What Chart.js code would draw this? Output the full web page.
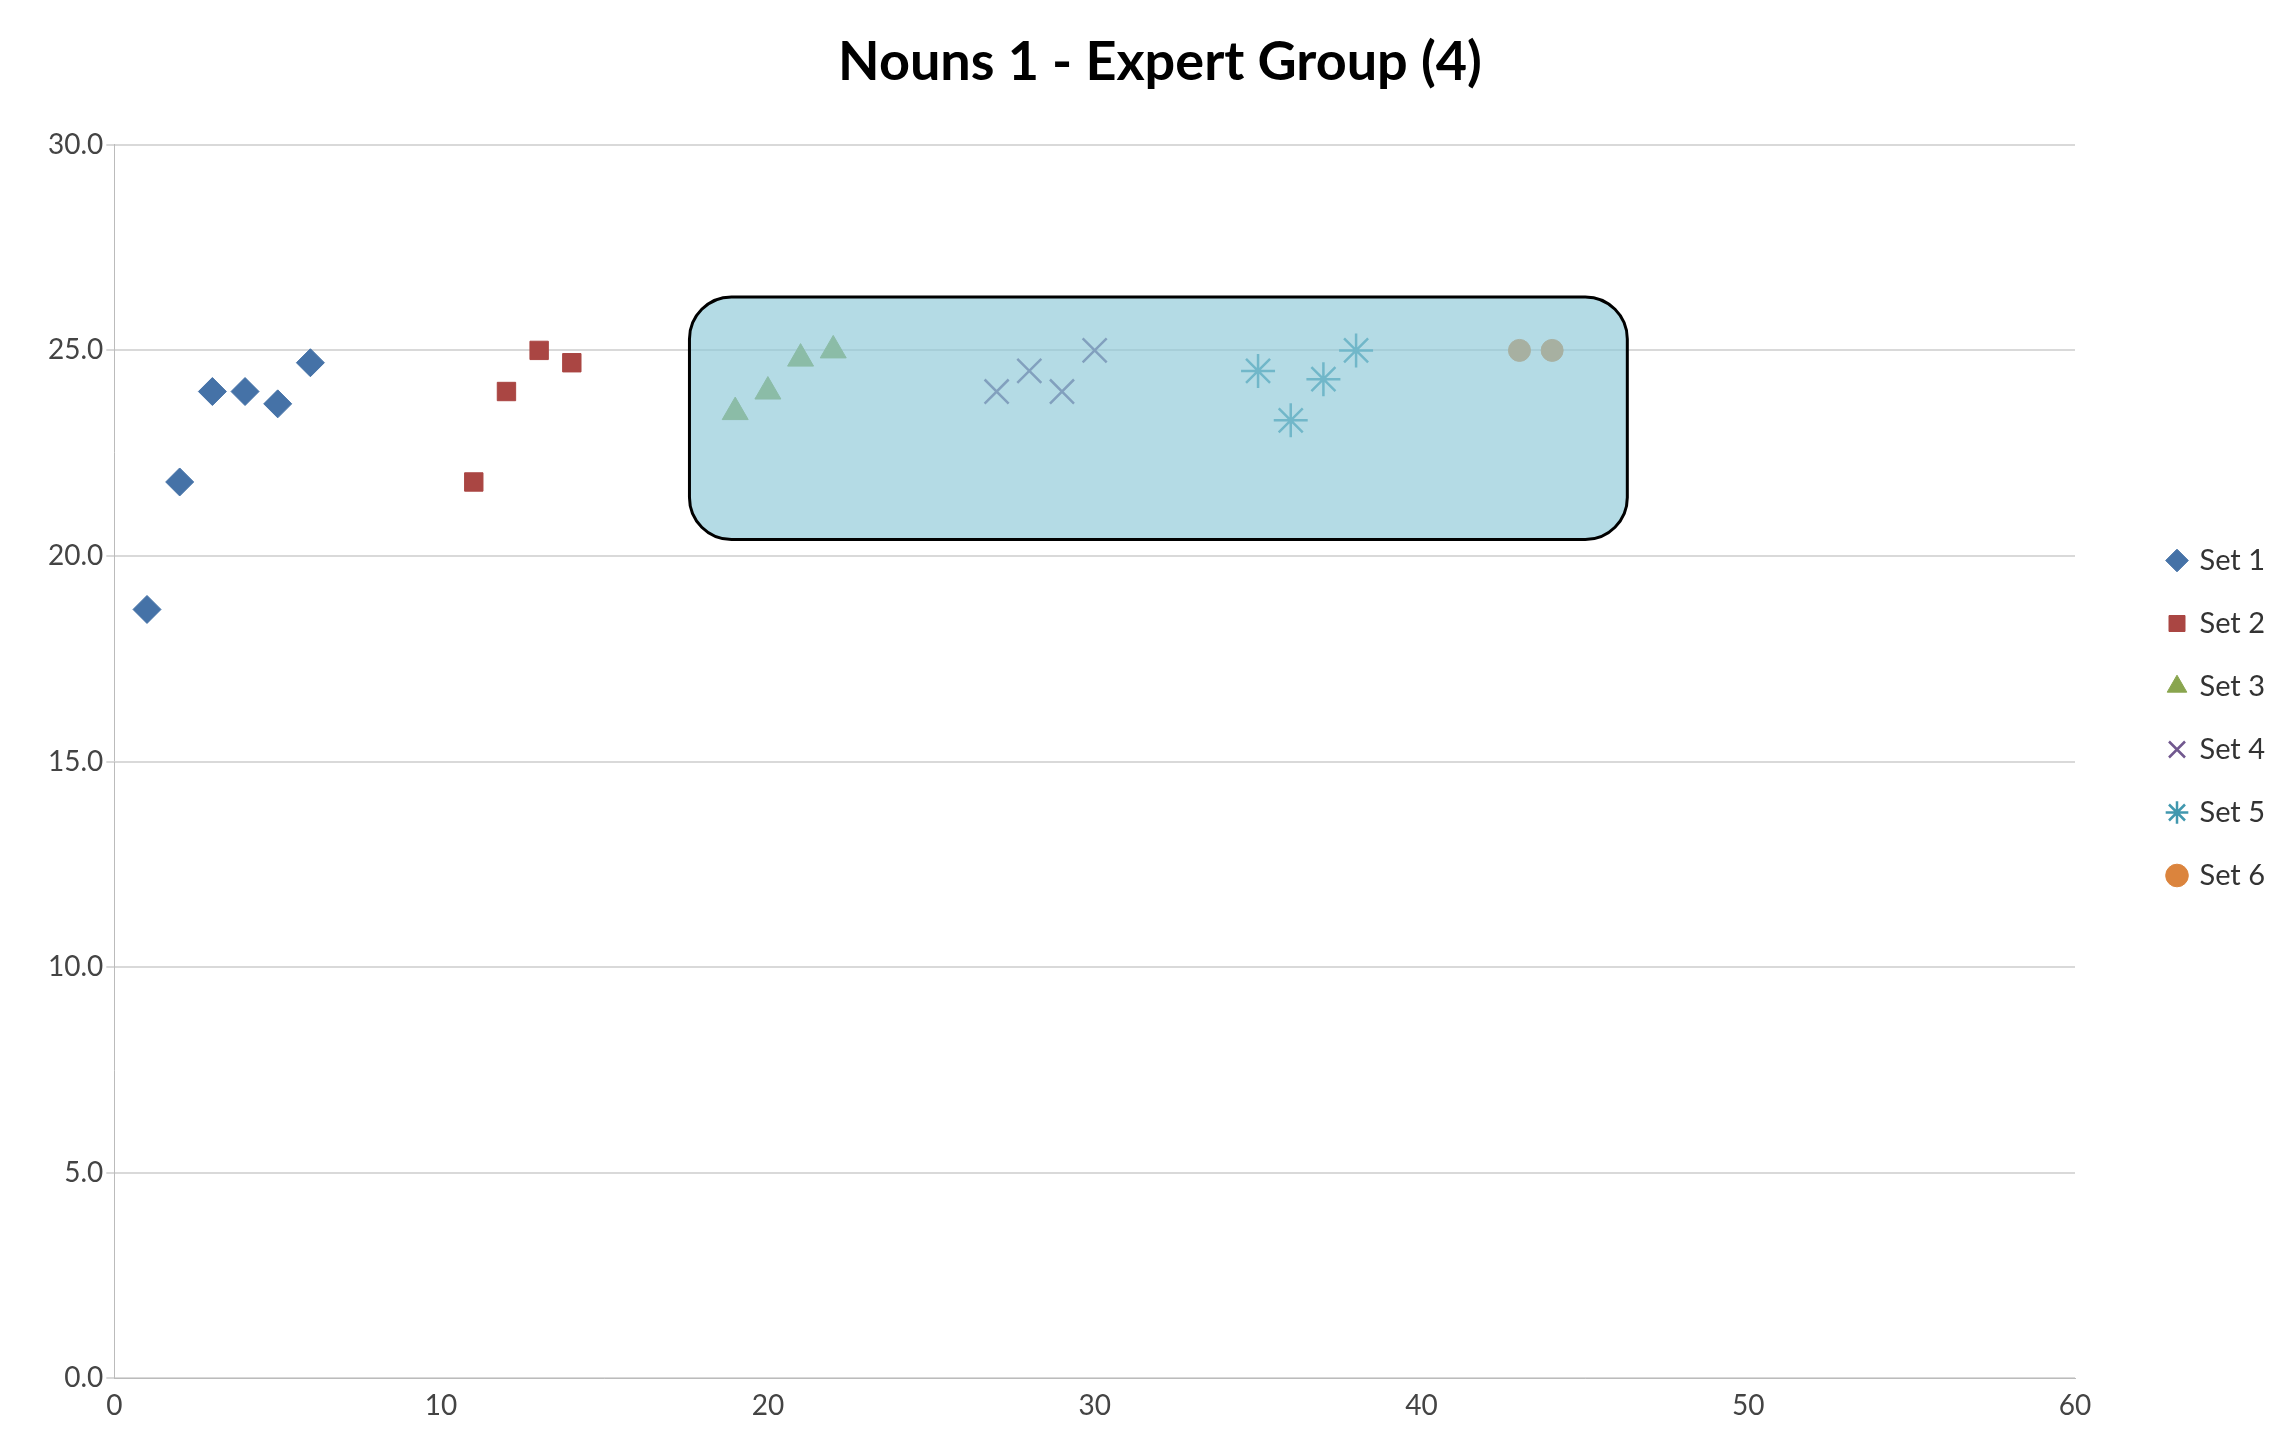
<!DOCTYPE html>
<html>
<head>
<meta charset="utf-8">
<script src="https://cdn.jsdelivr.net/npm/chart.js@4/dist/chart.umd.min.js"></script>
<style>
  body { margin: 0; background: #fff; }
</style>
</head>
<body>
<canvas id="myChart" width="2290" height="1456"></canvas>
<script>
// Data
const set1X = [1, 2, 3, 4, 5, 6];
const set1Y = [18.7, 21.8, 24.0, 24.0, 23.7, 24.7];
const set2X = [11, 12, 13, 14];
const set2Y = [21.8, 24.0, 25.0, 24.7];
const set3X = [19, 20, 21, 22];
const set3Y = [23.5, 24.0, 24.8, 25.0];
const set4X = [27, 28, 29, 30];
const set4Y = [24.0, 24.5, 24.0, 25.0];
const set5X = [35, 36, 37, 38];
const set5Y = [24.5, 23.3, 24.3, 25.0];
const set6X = [43, 44];
const set6Y = [25.0, 25.0];

const seriesNames = ["Set 1", "Set 2", "Set 3", "Set 4", "Set 5", "Set 6"];
const seriesX = [set1X, set2X, set3X, set4X, set5X, set6X];
const seriesY = [set1Y, set2Y, set3Y, set4Y, set5Y, set6Y];
const colors = ["#4572a7", "#aa4643", "#89a54e", "#71588f", "#4198af", "#db843d"];
const shapes = ["rectRot", "rect", "triangle", "crossRot", "star", "circle"];
const sizes = [14, 13, 15, 17, 17, 11];

function toPoints(xs, ys) {
  return xs.map((x, i) => ({ x: x, y: ys[i] }));
}

// highlighted region drawn over the points (in data units)
const boxArea = { x0: 17.6, x1: 46.3, y0: 20.4, y1: 26.3 };

const highlightBox = {
  id: "highlightBox",
  afterDatasetsDraw(chart) {
    const { ctx, scales } = chart;
    const l = scales.x.getPixelForValue(boxArea.x0);
    const r = scales.x.getPixelForValue(boxArea.x1);
    const t = scales.y.getPixelForValue(boxArea.y1);
    const b = scales.y.getPixelForValue(boxArea.y0);
    ctx.save();
    ctx.beginPath();
    ctx.roundRect(l, t, r - l, b - t, 42);
    ctx.fillStyle = "rgba(140, 200, 215, 0.65)";
    ctx.fill();
    ctx.lineWidth = 3;
    ctx.strokeStyle = "#000";
    ctx.stroke();
    ctx.restore();
  },
};

// push the legend items away from the plot
const legendGap = 60;
const legendSpace = {
  id: "legendSpace",
  beforeInit(chart) {
    const fit = chart.legend.fit;
    chart.legend.fit = function () {
      fit.bind(chart.legend)();
      this.width += legendGap;
    };
  },
  afterLayout(chart) {
    chart.legend.left += legendGap;
  },
};

const ctx = document.getElementById("myChart").getContext("2d");
new Chart(ctx, {
  type: "scatter",
  data: {
    datasets: seriesNames.map((name, i) => ({
      label: name,
      data: toPoints(seriesX[i], seriesY[i]),
      pointStyle: shapes[i],
      pointRadius: sizes[i],
      backgroundColor: colors[i],
      borderColor: colors[i],
      borderWidth: i === 3 || i === 4 ? 2.5 : 1,
    })),
  },
  options: {
    responsive: false,
    animation: false,
    layout: { padding: { left: 45, right: 15, top: 10, bottom: 30 } },
    plugins: {
      title: {
        display: true,
        text: "Nouns 1 - Expert Group (4)",
        color: "#000",
        font: { family: "Lato", size: 54, weight: "bold" },
        padding: { top: 20, bottom: 50 },
      },
      legend: {
        position: "right",
        labels: {
          usePointStyle: true,
          boxWidth: 16,
          boxHeight: 16,
          color: "#333",
          font: { family: "Lato", size: 29 },
          padding: 34,
        },
      },
      tooltip: { enabled: false },
    },
    scales: {
      x: {
        min: 0,
        max: 60,
        ticks: { stepSize: 10, color: "#444", font: { family: "Lato", size: 28 } },
        grid: { display: false },
        border: { color: "#bbb" },
      },
      y: {
        min: 0,
        max: 30,
        ticks: {
          stepSize: 5,
          color: "#444",
          font: { family: "Lato", size: 28 },
          callback: (v) => v.toFixed(1),
        },
        grid: { color: "#d9d9d9", lineWidth: 2 },
        border: { color: "#bbb" },
      },
    },
  },
  plugins: [highlightBox, legendSpace],
});
</script>
</body>
</html>
